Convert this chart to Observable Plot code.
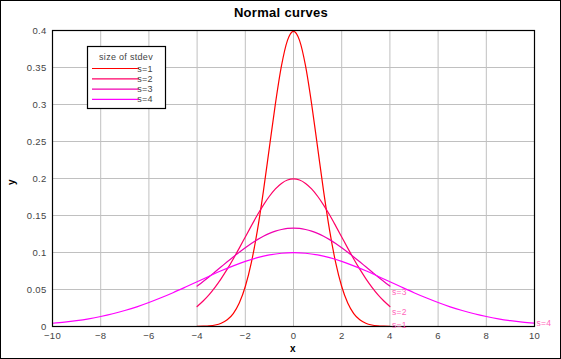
<!DOCTYPE html>
<html><head><meta charset="utf-8">
<script src="https://cdn.jsdelivr.net/npm/d3@7"></script>
<script src="https://cdn.jsdelivr.net/npm/@observablehq/plot@0.6"></script>
<style>body{margin:0;background:#fff}</style>
</head><body><div id="chart"></div>
<script>
const title = "Normal curves";
const legendTitle = "size of stdev";
const seriesNames = ["s=1", "s=2", "s=3", "s=4"];
const seriesColors = ["#ff0000", "#ff0066", "#f000b0", "#ff00ff"];
const xShort = [-4,-3.75,-3.5,-3.25,-3,-2.75,-2.5,-2.25,-2,-1.75,-1.5,-1.25,-1,-0.75,-0.5,-0.25,0,0.25,0.5,0.75,1,1.25,1.5,1.75,2,2.25,2.5,2.75,3,3.25,3.5,3.75,4];
const yS1 = [0.0001,0.0004,0.0009,0.0020,0.0044,0.0091,0.0175,0.0317,0.0540,0.0863,0.1295,0.1826,0.2420,0.3011,0.3521,0.3867,0.3989,0.3867,0.3521,0.3011,0.2420,0.1826,0.1295,0.0863,0.0540,0.0317,0.0175,0.0091,0.0044,0.0020,0.0009,0.0004,0.0001];
const yS2 = [0.0270,0.0344,0.0431,0.0533,0.0648,0.0775,0.0913,0.1059,0.1210,0.1360,0.1506,0.1641,0.1760,0.1859,0.1933,0.1979,0.1995,0.1979,0.1933,0.1859,0.1760,0.1641,0.1506,0.1360,0.1210,0.1059,0.0913,0.0775,0.0648,0.0533,0.0431,0.0344,0.0270];
const yS3 = [0.0547,0.0609,0.0673,0.0740,0.0807,0.0874,0.0940,0.1004,0.1065,0.1122,0.1174,0.1219,0.1258,0.1289,0.1311,0.1325,0.1330,0.1325,0.1311,0.1289,0.1258,0.1219,0.1174,0.1122,0.1065,0.1004,0.0940,0.0874,0.0807,0.0740,0.0673,0.0609,0.0547];
const xLong = [-10,-9.5,-9,-8.5,-8,-7.5,-7,-6.5,-6,-5.5,-5,-4.5,-4,-3.5,-3,-2.5,-2,-1.5,-1,-0.5,0,0.5,1,1.5,2,2.5,3,3.5,4,4.5,5,5.5,6,6.5,7,7.5,8,8.5,9,9.5,10];
const yS4 = [0.0044,0.0059,0.0079,0.0104,0.0135,0.0172,0.0216,0.0266,0.0324,0.0388,0.0457,0.0530,0.0605,0.0680,0.0753,0.0820,0.0880,0.0930,0.0967,0.0990,0.0997,0.0990,0.0967,0.0930,0.0880,0.0820,0.0753,0.0680,0.0605,0.0530,0.0457,0.0388,0.0324,0.0266,0.0216,0.0172,0.0135,0.0104,0.0079,0.0059,0.0044];
const xTicks = [-10,-8,-6,-4,-2,0,2,4,6,8,10];
const yTicks = [0,0.05,0.1,0.15,0.2,0.25,0.3,0.35,0.4];
const yTickLabels = ["0","0.05","0.1","0.15","0.2","0.25","0.3","0.35","0.4"];
// where the end-of-series labels sit
const endLabelY = [0.001, 0.019, 0.046, 0.0044];

const seriesX = [xShort, xShort, xShort, xLong];
const seriesY = [yS1, yS2, yS3, yS4];
const rows = [];
seriesNames.forEach((name, i) => seriesX[i].forEach((x, j) => rows.push({s: name, x, y: seriesY[i][j]})));
const ends = seriesNames.map((name, i) => ({s: name, x: seriesX[i][seriesX[i].length - 1], ly: endLabelY[i]}));

const font = "Liberation Sans, Arial, sans-serif";
const W = 561, H = 359;
const chart = Plot.plot({
  width: W, height: H,
  marginLeft: 52, marginRight: 27, marginTop: 30, marginBottom: 33,
  style: {fontFamily: font, fontSize: "9.5px", color: "#444", background: "#fff", letterSpacing: "0.3px"},
  x: {domain: [-10, 10], label: null},
  y: {domain: [0, 0.4], label: null},
  color: {domain: seriesNames, range: seriesColors},
  marks: [
    Plot.gridX(xTicks, {stroke: "#c0c0c0", strokeOpacity: 1}),
    Plot.gridY(yTicks, {stroke: "#c0c0c0", strokeOpacity: 1}),
    Plot.line(rows, {x: "x", y: "y", z: "s", stroke: "s", strokeWidth: 1.2, curve: "monotone-x", clip: true}),
    Plot.frame({stroke: "#000", strokeWidth: 1.2}),
    Plot.text(ends, {x: "x", y: "ly", text: "s", dx: 2, textAnchor: "start", fill: "#ff66bb", fontSize: 8.5}),
    Plot.axisX({ticks: xTicks, tickSize: 0, tickPadding: 6, fill: "#444", label: null}),
    Plot.axisY({ticks: yTicks, tickSize: 0, tickPadding: 6, fill: "#444", label: null, tickFormat: d => yTickLabels[yTicks.indexOf(d)]})
  ]
});
document.getElementById("chart").appendChild(chart);
const svg = d3.select(chart);
svg.append("rect").attr("x", 0.5).attr("y", 0.5).attr("width", W - 1).attr("height", H - 1).attr("fill", "none").attr("stroke", "#000");
svg.append("text").attr("x", 281).attr("y", 17).attr("text-anchor", "middle").attr("font-family", font).attr("font-weight", "bold").attr("font-size", 13).attr("fill", "#000").text(title);
svg.append("text").attr("x", 293).attr("y", 352).attr("text-anchor", "middle").attr("font-family", font).attr("font-weight", "bold").attr("font-size", 10).attr("fill", "#000").text("x");
svg.append("text").attr("transform", "translate(15,182) rotate(-90)").attr("text-anchor", "middle").attr("font-family", font).attr("font-weight", "bold").attr("font-size", 10).attr("fill", "#000").text("y");
const lg = svg.append("g");
lg.append("rect").attr("x", 87.5).attr("y", 46.5).attr("width", 78).attr("height", 62).attr("fill", "#fff").attr("stroke", "#000").attr("stroke-width", 1.2);
lg.append("text").attr("x", 126).attr("y", 60).attr("text-anchor", "middle").attr("font-family", font).attr("font-size", 9).attr("letter-spacing", "0.3px").attr("fill", "#444").text(legendTitle);
seriesNames.forEach((name, i) => {
  const yy = 68.5 + i * 10.3;
  lg.append("line").attr("x1", 92).attr("x2", 139).attr("y1", yy).attr("y2", yy).attr("stroke", seriesColors[i]).attr("stroke-width", 1.2);
  lg.append("text").attr("x", 145).attr("y", yy + 3).attr("font-family", font).attr("font-size", 9).attr("letter-spacing", "0.3px").attr("fill", "#444").text(name);
});
</script></body></html>
